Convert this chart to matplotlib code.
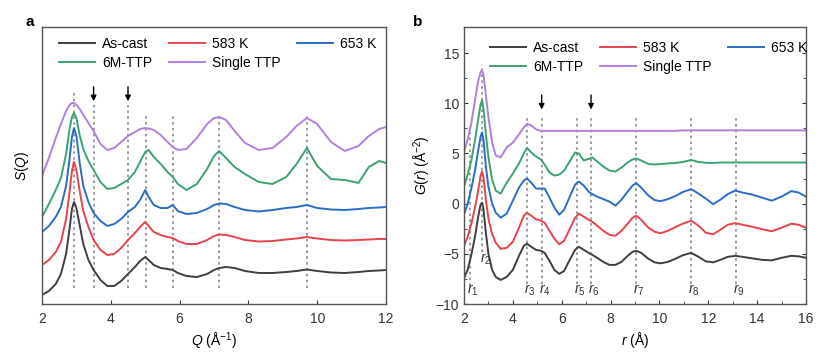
import numpy as np
import matplotlib
matplotlib.use('Agg')
import matplotlib.pyplot as plt

plt.rcParams['font.family'] = ['Liberation Sans', 'DejaVu Sans']
plt.rcParams['mathtext.fontset'] = 'custom'
plt.rcParams['mathtext.rm'] = 'Liberation Sans'
plt.rcParams['mathtext.it'] = 'Liberation Sans:italic'

# ---- panel a: S(Q), curves already stacked (arbitrary units) ----
q = [2.0, 2.2, 2.4, 2.55, 2.7, 2.8, 2.87, 2.93, 3.0, 3.1, 3.2, 3.35, 3.5, 3.7, 3.9, 4.1,
     4.3, 4.5, 4.7, 4.85, 5.0, 5.1, 5.25, 5.45, 5.65, 5.8, 5.95, 6.2, 6.5, 6.8, 7.0, 7.15,
     7.35, 7.6, 7.9, 8.3, 8.7, 9.1, 9.4, 9.7, 10.0, 10.4, 10.8, 11.2, 11.5, 11.8, 12.0]
sq_ascast = [9, 13, 20, 30, 50, 75, 95, 102, 96, 78, 60, 44, 34, 24, 18, 18,
             23, 30, 37, 43, 47, 44, 39, 36, 35, 34, 31, 28, 27, 30, 34, 36,
             37, 36, 33, 31, 31, 32, 33, 34.5, 33, 31.5, 31, 32, 33, 33.5, 34]
sq_583 = [39, 44, 52, 62, 85, 112, 133, 142, 134, 112, 93, 77, 64, 54, 49, 50,
          56, 64, 71, 77, 82, 78, 72, 69, 67, 66, 63, 60, 60, 64, 68, 69.5,
          69, 67, 64, 62.5, 63, 64.5, 65.5, 67, 65.5, 64, 63.5, 64, 64.5, 65, 65]
sq_653 = [72, 78, 87, 97, 118, 145, 167, 176, 168, 140, 118, 102, 91, 83, 78, 80,
          85, 92, 97, 104, 114, 107, 99, 96, 96, 99, 93, 90, 91, 95, 99, 100.5,
          100, 97, 94, 92.5, 94, 96, 97, 99, 96, 94.5, 94, 95, 96, 96.5, 97]
sq_6m = [87, 100, 114, 126, 150, 175, 187, 191, 186, 168, 155, 143, 134, 122, 115, 116,
         120, 124, 132, 142, 152, 154, 147, 140, 132, 127, 120, 114, 120, 135, 148, 153,
         146, 137, 130, 122, 120, 127, 140, 156, 138, 125, 124, 121, 137, 143, 141]
sq_single = [128, 146, 166, 180, 193, 199, 201, 201, 199, 195, 189, 181, 173, 160, 154, 156,
             162, 168, 172, 175, 176, 175.5, 174, 169, 162, 157, 154, 155, 166, 180, 186, 187,
             184, 173, 161, 154, 156, 167, 178, 186, 180, 162, 153, 158, 168, 175, 177]
q_marks = [2.93, 3.5, 4.5, 5.03, 5.8, 7.15, 9.7]
q_arrows = [3.5, 4.5]

# ---- panel b: G(r) ----
r = [2.0, 2.15, 2.3, 2.45, 2.58, 2.68, 2.74, 2.8, 2.9, 3.0, 3.15, 3.3, 3.5, 3.75, 4.0, 4.25,
     4.45, 4.58, 4.75, 4.95, 5.15, 5.3, 5.5, 5.7, 5.9, 6.1, 6.35, 6.55, 6.7, 6.9, 7.1, 7.25,
     7.45, 7.7, 7.95, 8.2, 8.45, 8.7, 8.9, 9.05, 9.25, 9.55, 9.8, 10.05, 10.35, 10.65, 10.95,
     11.3, 11.6, 11.9, 12.2, 12.5, 12.8, 13.1, 13.4, 13.8, 14.2, 14.6, 15.0, 15.4, 15.7, 16.0]
gr_ascast = [-7.4, -6.6, -5.1, -3.3, -1.3, -0.1, 0.1, -0.6, -3.0, -5.0, -6.6, -7.3, -7.6, -7.3, -6.6, -5.2,
             -4.2, -4.0, -4.3, -4.6, -4.7, -4.9, -5.7, -6.6, -7.0, -6.7, -5.5, -4.6, -4.3, -4.6, -4.9, -5.1,
             -5.4, -5.8, -6.1, -6.1, -5.8, -5.2, -4.8, -4.7, -4.9, -5.5, -5.85, -5.95, -5.8, -5.5, -5.15,
             -4.9, -5.3, -5.75, -5.85, -5.6, -5.3, -5.2, -5.3, -5.45, -5.6, -5.65, -5.4, -5.2, -5.25, -5.4]
gr_583 = [-4.2, -3.3, -2.0, -0.4, 1.3, 2.8, 3.2, 2.6, 0.3, -1.5, -3.0, -3.9, -4.5, -4.4, -3.8, -2.4,
          -1.2, -0.9, -1.2, -1.55, -1.7, -1.9, -2.7, -3.5, -4.05, -3.7, -2.4, -1.4, -1.0, -1.3, -1.6, -1.8,
          -2.2, -2.7, -3.1, -3.2, -2.7, -2.0, -1.4, -1.2, -1.6, -2.4, -2.8, -2.95, -2.7, -2.35, -2.0,
          -1.7, -2.2, -2.9, -3.05, -2.6, -2.1, -1.95, -2.1, -2.3, -2.55, -2.75, -2.4, -2.0, -2.1, -2.4]
gr_653 = [-1.1, 0.0, 1.5, 3.3, 5.3, 6.7, 7.1, 6.3, 3.6, 1.7, 0.0, -0.9, -1.4, -1.0, 0.3, 1.6,
          2.3, 2.5, 2.1, 1.5, 1.5, 1.5, 0.6, -0.4, -1.1, -0.6, 0.8, 1.9, 2.2, 1.8, 1.2, 0.95,
          0.7, 0.45, 0.2, -0.2, 0.4, 1.2, 1.8, 2.05, 1.6, 0.8, 0.35, 0.25, 0.45, 0.75, 1.15,
          1.45, 1.0, 0.5, -0.05, 0.4, 0.95, 1.3, 1.1, 0.9, 0.6, 0.3, 0.7, 1.25, 1.1, 0.7]
gr_6m = [1.7, 2.9, 4.3, 6.3, 8.4, 9.9, 10.3, 9.4, 6.8, 4.6, 2.4, 1.3, 1.0, 2.1, 3.0, 4.0,
         5.0, 5.55, 5.1, 4.7, 4.4, 3.9, 3.1, 2.8, 2.9, 3.3, 4.3, 5.1, 5.0, 4.3, 4.45, 4.6,
         4.2, 3.7, 3.3, 3.2, 3.6, 4.1, 4.4, 4.5, 4.3, 3.95, 3.9, 3.95, 4.0, 4.05, 4.15,
         4.35, 4.15, 4.07, 4.05, 4.1, 4.1, 4.1, 4.1, 4.1, 4.1, 4.1, 4.1, 4.1, 4.1, 4.1]
gr_single = [5.1, 6.4, 8.0, 10.3, 12.2, 13.1, 13.3, 12.8, 10.7, 8.6, 6.1, 4.8, 4.6, 5.6, 6.1, 6.9,
             7.6, 7.95, 7.8, 7.4, 7.25, 7.25, 7.25, 7.25, 7.25, 7.25, 7.25, 7.25, 7.25, 7.25, 7.25, 7.25,
             7.25, 7.25, 7.25, 7.25, 7.25, 7.25, 7.25, 7.25, 7.25, 7.25, 7.25, 7.25, 7.25, 7.25, 7.3,
             7.3, 7.3, 7.3, 7.3, 7.3, 7.3, 7.3, 7.3, 7.3, 7.3, 7.3, 7.3, 7.3, 7.3, 7.3]
r_marks = [2.25, 2.72, 4.57, 5.18, 6.62, 7.2, 9.03, 11.3, 13.12]
r_arrows = [5.18, 7.2]

labels = ['As-cast', '583 K', '653 K', '6M-TTP', 'Single TTP']
colors = ['#3f3f3f', '#e8434b', '#2b6cc4', '#3ca370', '#b07fe0']


def legenda(ax, anchor):
    # ordem das colunas: As-cast/6M-TTP, 583 K/Single TTP, 653 K
    ordem = [0, 3, 1, 4, 2]
    h, l = ax.get_legend_handles_labels()
    ax.legend([h[i] for i in ordem], [l[i] for i in ordem], ncol=3, frameon=False,
              loc='upper left', bbox_to_anchor=anchor, fontsize=10,
              handlelength=2.6, handletextpad=0.5, columnspacing=1.2,
              labelspacing=0.35, borderaxespad=0, borderpad=0)


fig = plt.figure(figsize=(8.31, 3.57), dpi=100)
ax1 = fig.add_axes([42/831, 53/357, 344/831, 277/357])
ax2 = fig.add_axes([464/831, 53/357, 342/831, 277/357])

series_a = [sq_ascast, sq_583, sq_653, sq_6m, sq_single]
series_b = [gr_ascast, gr_583, gr_653, gr_6m, gr_single]

for k in range(5):
    ax1.plot(q, series_a[k], color=colors[k], lw=1.4, label=labels[k])
    ax2.plot(r, series_b[k], color=colors[k], lw=1.4, label=labels[k])

# linhas tracejadas painel a
for i, x in enumerate(q_marks):
    top = 212 if i == 0 else (199 if x in q_arrows else 191)
    ax1.plot([x, x], [16, top], color='#888888', lw=1.2, ls=(0, (1.5, 2)), zorder=0)
for x in q_arrows:
    ax1.annotate('', xy=(x, 200), xytext=(x, 220),
                 arrowprops=dict(arrowstyle='-|>', color='k', lw=1, mutation_scale=8))

# linhas tracejadas painel b
for i, x in enumerate(r_marks):
    if i == 0:
        y0, y1 = -8.2, 7.6
    elif i == 1:
        y0, y1 = -4.8, 13.8
    else:
        y0, y1 = -8.0, 8.6
    ax2.plot([x, x], [y0, y1], color='#888888', lw=1.2, ls=(0, (1.5, 2)), zorder=0)
for x in r_arrows:
    ax2.annotate('', xy=(x, 9.1), xytext=(x, 11.1),
                 arrowprops=dict(arrowstyle='-|>', color='k', lw=1, mutation_scale=8))

for i, x in enumerate(r_marks):
    if i == 1:
        ax2.text(x + 0.15, -5.5, r'$r_{\mathrm{2}}$', fontsize=10, ha='center', va='center', color='#333333')
    else:
        ax2.text(x + 0.12, -8.6, r'$r_{\mathrm{%d}}$' % (i + 1), fontsize=10, ha='center',
                 va='center', color='#333333')

# eixos
ax1.set_xlim(2, 12)
ax1.set_ylim(0, 277)
ax1.set_xticks([2, 4, 6, 8, 10, 12])
ax1.set_yticks([])
ax1.tick_params(axis='x', direction='in', length=3, labelsize=10, pad=6, colors='#333333')
ax1.set_xlabel(r'$Q$ (Å$^{-1}$)', fontsize=10, labelpad=3)
ax1.set_ylabel(r'$S$($Q$)', fontsize=10, labelpad=8)

ax2.set_xlim(2, 16)
ax2.set_ylim(-10, 17.6)
ax2.set_xticks(range(2, 17, 2))
ax2.set_xticks(range(3, 17, 2), minor=True)
ax2.set_yticks([-10, -5, 0, 5, 10, 15])
ax2.set_yticks(np.arange(-7.5, 17, 5), minor=True)
ax2.tick_params(which='both', direction='in', right=True, labelsize=10, colors='#333333')
ax2.tick_params(which='major', length=3)
ax2.tick_params(which='minor', length=2)
ax2.tick_params(axis='x', pad=6)
ax2.set_xlabel(r'$r$ (Å)', fontsize=10, labelpad=3)
ax2.set_ylabel(r'$G$($r$) (Å$^{-2}$)', fontsize=10, labelpad=2)

for ax in (ax1, ax2):
    for s in ax.spines.values():
        s.set_color('#555555')
        s.set_linewidth(1.0)

legenda(ax1, (17/344, 1 - 10/277))
legenda(ax2, (26/342, 1 - 14/277))

fig.text(25/831, 1 - 22/357, 'a', fontsize=11, fontweight='bold', va='center', ha='left')
fig.text(413/831, 1 - 22/357, 'b', fontsize=11, fontweight='bold', va='center', ha='left')

fig.savefig('out.png', dpi=100)
